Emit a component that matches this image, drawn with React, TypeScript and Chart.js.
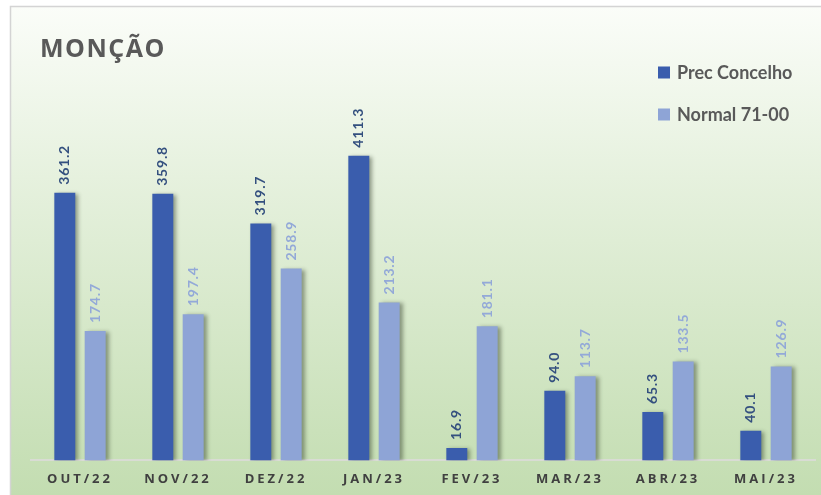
import React, { useEffect, useRef } from "react";
import { Chart, registerables } from "chart.js";

Chart.register(...registerables);

const categories = ["OUT/22", "NOV/22", "DEZ/22", "JAN/23", "FEV/23", "MAR/23", "ABR/23", "MAI/23"];
const precConcelho = [361.2, 359.8, 319.7, 411.3, 16.9, 94.0, 65.3, 40.1];
const normal7100 = [174.7, 197.4, 258.9, 213.2, 181.1, 113.7, 133.5, 126.9];
const seriesNames = ["Prec Concelho", "Normal 71-00"];
const chartTitle = "MONÇÃO";

const darkBar = "#3A5DAD";
const lightBar = "#8EA4D6";
const darkLabel = "#34507F";
const lightLabel = "#93A9D8";

const W = 821;
const H = 495;

const bgPlugin = {
  id: "bgPlugin",
  beforeDraw(chart: any) {
    const ctx = chart.ctx as CanvasRenderingContext2D;
    ctx.save();
    ctx.fillStyle = "#ffffff";
    ctx.fillRect(0, 0, W, H);
    const g = ctx.createLinearGradient(0, 6, 0, H);
    g.addColorStop(0, "#fbfdf9");
    g.addColorStop(0.35, "#e6f1de");
    g.addColorStop(1, "#c3ddb1");
    ctx.fillStyle = g;
    ctx.fillRect(10, 6, W - 10, H - 6);
    ctx.strokeStyle = "#d4d4d4";
    ctx.lineWidth = 1.5;
    ctx.beginPath();
    ctx.moveTo(10.5, H);
    ctx.lineTo(10.5, 6.5);
    ctx.lineTo(W, 6.5);
    ctx.stroke();
    ctx.restore();
    (ctx as any).letterSpacing = "3px";
  },
  beforeDatasetsDraw(chart: any) {
    const ctx = chart.ctx as CanvasRenderingContext2D;
    (ctx as any).letterSpacing = "0px";
    ctx.shadowColor = "rgba(40,50,30,0.45)";
    ctx.shadowBlur = 4;
    ctx.shadowOffsetX = 3;
    ctx.shadowOffsetY = 1;
  },
  afterDatasetsDraw(chart: any) {
    const ctx = chart.ctx as CanvasRenderingContext2D;
    ctx.shadowColor = "rgba(0,0,0,0)";
    ctx.shadowBlur = 0;
    ctx.shadowOffsetX = 0;
    ctx.shadowOffsetY = 0;
    chart.data.datasets.forEach((ds: any, di: number) => {
      const meta = chart.getDatasetMeta(di);
      meta.data.forEach((bar: any, i: number) => {
        const v = ds.data[i] as number;
        ctx.save();
        ctx.translate(bar.x, bar.y - 8);
        ctx.rotate(-Math.PI / 2);
        ctx.font = "bold 14px Lato";
        (ctx as any).letterSpacing = "0.8px";
        ctx.fillStyle = di === 0 ? darkLabel : lightLabel;
        ctx.textAlign = "left";
        ctx.textBaseline = "middle";
        ctx.fillText(v.toFixed(1), 0, 0);
        ctx.restore();
      });
    });
  },
  afterDraw(chart: any) {
    const ctx = chart.ctx as CanvasRenderingContext2D;
    ctx.save();
    ctx.font = "bold 25px 'Open Sans'";
    (ctx as any).letterSpacing = "1.5px";
    ctx.fillStyle = "#595959";
    ctx.textAlign = "left";
    ctx.textBaseline = "alphabetic";
    ctx.fillText(chartTitle, 40, 57);
    (ctx as any).letterSpacing = "0px";
    ctx.font = "bold 18px Lato";
    chart.data.datasets.forEach((ds: any, di: number) => {
      const cy = 72.5 + di * 42;
      ctx.fillStyle = ds.backgroundColor;
      ctx.fillRect(658, cy - 6, 12, 12);
      ctx.fillStyle = "#595959";
      ctx.textBaseline = "middle";
      ctx.fillText(ds.label, 677, cy + 1);
    });
    ctx.restore();
  },
};

export default function App() {
  const ref = useRef<HTMLCanvasElement | null>(null);
  useEffect(() => {
    document.body.style.margin = "0";
    const chart = new Chart(ref.current as HTMLCanvasElement, {
      type: "bar",
      data: {
        labels: categories,
        datasets: [
          {
            label: seriesNames[0],
            data: precConcelho,
            backgroundColor: darkBar,
            categoryPercentage: 0.62,
            barPercentage: 0.69,
          },
          {
            label: seriesNames[1],
            data: normal7100,
            backgroundColor: lightBar,
            categoryPercentage: 0.62,
            barPercentage: 0.69,
          },
        ],
      },
      options: {
        animation: false,
        responsive: false,
        layout: { padding: { left: 31, right: 6, top: 127, bottom: 5 } },
        plugins: {
          legend: { display: false },
          title: { display: false },
          tooltip: { enabled: false },
        },
        scales: {
          x: {
            grid: { display: false },
            border: { display: true, color: "#d9dcd4", width: 2 },
            ticks: {
              color: "#404040",
              font: { family: "'Open Sans'", weight: "bold", size: 13 },
              padding: 3,
              maxRotation: 0,
            },
          },
          y: {
            display: false,
            min: 0,
            max: 450,
          },
        },
      },
      plugins: [bgPlugin],
    });
    return () => chart.destroy();
  }, []);
  return (
    <div style={{ position: "absolute", left: 0, top: 0, width: W, height: H }}>
      <canvas ref={ref} width={W} height={H} style={{ width: W, height: H, display: "block" }} />
    </div>
  );
}
